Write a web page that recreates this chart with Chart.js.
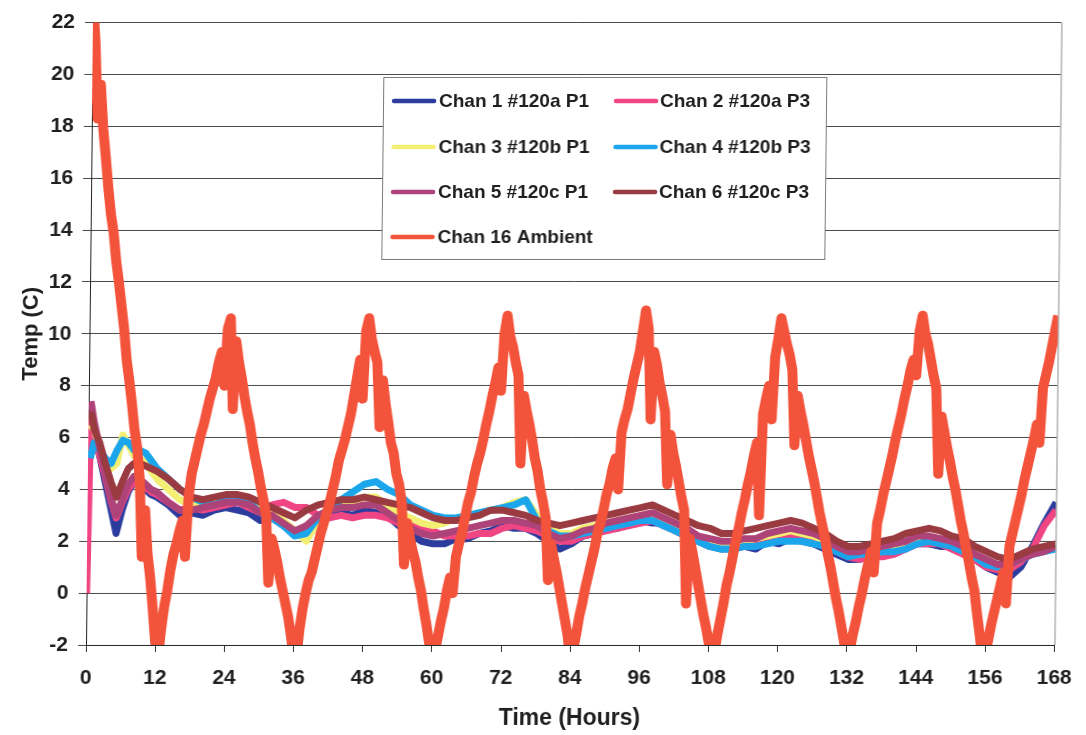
<!DOCTYPE html>
<html>
<head>
<meta charset="utf-8">
<title>Temperature log</title>
<script src="https://cdn.jsdelivr.net/npm/chart.js@4.4.0/dist/chart.umd.min.js"></script>
<style>
  html, body { margin: 0; padding: 0; background: #fff; }
  #wrap { width: 1086px; height: 735px; overflow: hidden; }
  /* the printed page sits slightly sheared */
  canvas { display: block; transform: skewX(-0.64deg); transform-origin: 0 645px; }
</style>
</head>
<body>
<div id="wrap"><canvas id="c" width="1086" height="735"></canvas></div>
<script>
// ---- tick labels ----
const xTickHours = [0, 12, 24, 36, 48, 60, 72, 84, 96, 108, 120, 132, 144, 156, 168];
const yTickTemps = [-2, 0, 2, 4, 6, 8, 10, 12, 14, 16, 18, 20, 22];

// ---- sample times (hours) for the six probe channels ----
const chanHours = [0, 0.4, 1, 2, 3, 4, 5, 6, 7, 8, 9, 10, 11, 12,
  14, 16, 18, 20, 22, 24, 26, 28, 30, 32, 34, 36, 38, 40, 42, 44, 46, 48, 50, 52, 54, 56, 58, 60,
  62, 64, 66, 68, 70, 72, 74, 76, 78, 80, 82, 84, 86, 88, 90, 92, 94, 96, 98, 100, 102, 104, 106, 108, 110,
  112, 114, 116, 118, 120, 122, 124, 126, 128, 130, 132, 134, 136, 138, 140, 142, 144, 146, 148, 150, 152, 154, 156, 158, 160, 162, 164, 166, 168];

// ---- probe temperatures (C) ----
const chan1 = [null, 7.0, 6.4, 5.3, 4.3, 3.3, 2.3, 3.2, 3.9, 4.3, 4.2, 4.0, 3.8, 3.7,
  3.4, 3.0, 3.1, 3.0, 3.2, 3.3, 3.2, 3.1, 2.8, 2.9, 2.6, 2.4, 2.5, 2.9, 3.0, 3.1, 3.0, 3.2, 3.1, 3.0, 2.6, 2.3, 2.0, 1.9,
  1.9, 2.1, 2.1, 2.3, 2.4, 2.6, 2.5, 2.5, 2.3, 2.0, 1.7, 1.9, 2.2, 2.3, 2.5, 2.5, 2.7, 2.8, 2.7, 2.7, 2.4, 2.2, 2.0, 1.8, 1.7,
  1.7, 1.8, 1.7, 2.0, 1.9, 2.1, 2.0, 1.9, 1.7, 1.5, 1.3, 1.3, 1.4, 1.5, 1.6, 1.8, 1.9, 1.9, 1.8, 1.8, 1.6, 1.3, 1.0, 0.8, 0.6, 1.0, 1.8, 2.7, 3.5];

const chan2 = [0, 6.8, 6.2, 5.3, 4.5, 3.6, 2.9, 3.5, 4.0, 4.3, 4.3, 4.1, 3.9, 3.8,
  3.5, 3.2, 3.3, 3.2, 3.3, 3.4, 3.5, 3.3, 3.1, 3.4, 3.5, 3.3, 3.3, 3.0, 2.9, 3.0, 2.9, 3.0, 3.0, 2.9, 2.7, 2.6, 2.5, 2.4,
  2.2, 2.2, 2.2, 2.3, 2.3, 2.5, 2.6, 2.5, 2.4, 2.2, 2.0, 2.0, 2.2, 2.3, 2.4, 2.5, 2.6, 2.7, 2.8, 2.6, 2.4, 2.2, 2.0, 1.9, 1.9,
  1.9, 1.9, 2.0, 2.1, 2.1, 2.2, 2.1, 2.0, 1.9, 1.6, 1.4, 1.3, 1.4, 1.4, 1.5, 1.7, 1.9, 1.9, 1.9, 1.7, 1.5, 1.3, 1.0, 0.9, 0.9, 1.2, 1.7, 2.6, 3.2];

const chan3 = [null, 6.5, 6.3, 5.6, 5.1, 4.8, 5.0, 6.1, 5.7, 5.3, 5.2, 5.0, 4.7, 4.4,
  4.0, 3.6, 3.4, 3.4, 3.5, 3.7, 3.8, 3.6, 3.3, 3.1, 2.8, 2.4, 2.0, 2.8, 3.2, 3.4, 3.5, 3.7, 3.7, 3.4, 3.1, 2.9, 2.7, 2.6,
  2.7, 2.9, 3.0, 3.1, 3.2, 3.3, 3.5, 3.6, 3.0, 2.5, 2.3, 2.3, 2.5, 2.6, 2.7, 2.8, 2.9, 3.0, 3.0, 2.8, 2.6, 2.4, 2.2, 2.0, 1.9,
  1.9, 2.0, 2.1, 2.2, 2.3, 2.4, 2.3, 2.2, 2.0, 1.7, 1.5, 1.5, 1.6, 1.7, 1.8, 1.9, 2.1, 2.1, 2.0, 1.9, 1.7, 1.4, 1.2, 1.1, 1.1, 1.3, 1.5, 1.6, 1.8];

const chan4 = [null, 5.2, 5.8, 5.5, 5.2, 5.0, 5.5, 5.9, 5.8, 5.5, 5.5, 5.4, 5.1, 4.8,
  4.4, 4.0, 3.7, 3.5, 3.4, 3.6, 3.7, 3.5, 3.1, 2.9, 2.6, 2.2, 2.3, 2.9, 3.3, 3.6, 3.9, 4.2, 4.3, 4.0, 3.8, 3.4, 3.2, 3.0,
  2.9, 2.9, 3.0, 3.1, 3.2, 3.3, 3.4, 3.6, 2.8, 2.4, 2.2, 2.2, 2.3, 2.4, 2.5, 2.6, 2.7, 2.8, 2.8, 2.6, 2.4, 2.2, 2.0, 1.8, 1.7,
  1.7, 1.8, 1.8, 1.9, 2.0, 2.0, 2.0, 1.9, 1.8, 1.6, 1.4, 1.5, 1.5, 1.6, 1.6, 1.7, 1.9, 2.0, 1.9, 1.8, 1.6, 1.4, 1.1, 1.0, 1.1, 1.3, 1.5, 1.6, 1.7];

const chan5 = [null, 7.4, 6.6, 5.6, 4.6, 3.7, 3.0, 3.6, 4.2, 4.5, 4.4, 4.2, 4.0, 3.9,
  3.5, 3.2, 3.2, 3.3, 3.4, 3.5, 3.5, 3.4, 3.1, 3.0, 2.7, 2.4, 2.6, 3.0, 3.2, 3.3, 3.3, 3.4, 3.4, 3.1, 2.8, 2.5, 2.3, 2.2,
  2.3, 2.4, 2.5, 2.6, 2.7, 2.8, 2.8, 2.7, 2.6, 2.3, 2.1, 2.2, 2.4, 2.5, 2.7, 2.8, 2.9, 3.0, 3.1, 2.9, 2.7, 2.5, 2.2, 2.1, 2.0,
  2.0, 2.1, 2.1, 2.3, 2.4, 2.5, 2.4, 2.3, 2.1, 1.8, 1.6, 1.6, 1.7, 1.8, 1.9, 2.0, 2.2, 2.2, 2.1, 2.0, 1.8, 1.5, 1.3, 1.1, 1.1, 1.3, 1.5, 1.6, 1.8];

const chan6 = [null, 7.0, 6.3, 5.8, 5.0, 4.3, 3.7, 4.3, 4.8, 5.0, 5.0, 4.9, 4.8, 4.7,
  4.4, 4.0, 3.7, 3.6, 3.7, 3.8, 3.8, 3.7, 3.5, 3.3, 3.1, 2.9, 3.2, 3.4, 3.5, 3.6, 3.6, 3.7, 3.6, 3.5, 3.4, 3.3, 3.1, 2.9,
  2.8, 2.8, 2.9, 3.0, 3.2, 3.2, 3.1, 3.0, 2.8, 2.7, 2.6, 2.7, 2.8, 2.9, 3.0, 3.1, 3.2, 3.3, 3.4, 3.2, 3.0, 2.8, 2.6, 2.5, 2.3,
  2.3, 2.4, 2.5, 2.6, 2.7, 2.8, 2.7, 2.5, 2.3, 2.0, 1.8, 1.8, 1.9, 2.0, 2.1, 2.3, 2.4, 2.5, 2.4, 2.2, 2.1, 1.8, 1.6, 1.4, 1.3, 1.5, 1.7, 1.8, 1.9];

// ---- ambient channel, one reading every half hour from 0 h ----
const ambientStepHours = 0.5;
const ambient = [
  22.8, 21.2, 18.3, 19.6, 17.9, 16.8, 15.6, 14.6, 13.9, 12.8, 12.0, 11.1,
  10.2, 9.0, 8.2, 7.3, 6.3, 5.6, 4.4, 1.4, 3.2, 1.5, 0.6, -0.6,
  -1.9, -2.5, -1.4, -0.5, 0.1, 0.9, 1.5, 1.9, 2.4, 2.8, 1.4, 3.7,
  4.6, 5.1, 5.6, 6.1, 6.5, 7.0, 7.5, 7.9, 8.3, 8.9, 9.3, 8.0,
  10.2, 10.6, 7.1, 9.7, 8.9, 8.3, 7.6, 7.0, 6.5, 5.8, 5.2, 4.7,
  4.1, 3.6, 3.0, 0.4, 2.1, 1.7, 1.2, 0.6, 0.1, -0.4, -0.9, -1.6,
  -2.4, -2.5, -1.4, -0.6, 0.0, 0.5, 0.8, 1.3, 1.8, 2.3, 2.7, 3.1,
  3.5, 4.0, 4.5, 5.1, 5.5, 5.9, 6.4, 6.9, 7.6, 8.3, 9.0, 7.5,
  10.1, 10.6, 9.8, 9.3, 8.9, 6.4, 8.2, 7.3, 6.6, 5.8, 5.4, 4.6,
  4.2, 3.5, 1.1, 2.7, 2.1, 1.6, 1.2, 0.6, 0.1, -0.6, -1.2, -1.9,
  -2.5, -2.3, -1.7, -1.1, -0.6, 0.1, 0.6, 0.0, 1.4, 1.9, 2.3, 2.9,
  3.5, 3.9, 4.5, 5.0, 5.4, 5.9, 6.5, 7.0, 7.6, 8.1, 8.7, 7.8,
  10.0, 10.7, 9.9, 9.5, 8.9, 8.4, 5.0, 7.6, 7.0, 6.5, 5.9, 5.2,
  4.7, 4.0, 3.5, 2.9, 0.5, 1.9, 1.3, 0.8, 0.2, -0.4, -1.0, -1.6,
  -2.5, -2.2, -1.6, -0.9, -0.4, 0.2, 0.7, 1.2, 1.7, 2.3, 2.7, 3.2,
  3.8, 4.2, 4.8, 5.2, 4.0, 6.2, 6.7, 7.1, 7.7, 8.3, 8.8, 9.3,
  10.1, 10.9, 10.2, 6.7, 9.3, 8.8, 8.1, 7.6, 7.0, 4.2, 6.1, 5.4,
  4.9, 4.3, 3.7, 3.2, -0.4, 2.1, 1.6, 1.0, 0.4, -0.2, -0.8, -1.3,
  -1.9, -2.5, -2.3, -1.6, -1.0, -0.4, 0.3, 0.8, 1.4, 2.0, 2.5, 3.1,
  3.6, 4.2, 4.7, 5.3, 5.8, 3.0, 6.9, 7.5, 8.0, 6.7, 9.1, 9.8,
  10.6, 10.1, 9.6, 9.2, 8.6, 5.7, 7.6, 7.0, 6.5, 5.9, 5.3, 4.8,
  4.3, 3.7, 3.1, 2.6, 2.1, 1.5, 1.0, 0.4, -0.2, -0.7, -1.3, -1.9,
  -2.5, -2.2, -1.6, -1.1, -0.5, 0.0, 0.6, 1.1, 1.6, 0.8, 2.7, 3.2,
  3.8, 4.3, 4.8, 5.3, 5.9, 6.4, 6.9, 7.5, 8.0, 8.6, 9.0, 8.4,
  10.1, 10.7, 10.0, 9.6, 9.0, 8.4, 7.9, 4.6, 6.8, 6.2, 5.6, 5.1,
  4.5, 4.0, 3.4, 2.8, 2.3, 1.7, 1.2, 0.6, 0.1, -0.8, -1.6, -2.5,
  -2.3, -1.8, -1.2, -0.7, -0.2, 0.3, 0.8, -0.4, 1.8, 2.3, 2.8, 3.3,
  3.8, 4.4, 4.9, 5.4, 5.9, 6.5, 5.8, 7.9, 8.4, 8.9, 9.5, 10.1,
  10.7
];

const seriesLabels = ['Chan 1 #120a P1', 'Chan 2 #120a P3', 'Chan 3 #120b P1', 'Chan 4 #120b P3',
                      'Chan 5 #120c P1', 'Chan 6 #120c P3', 'Chan 16 Ambient'];
const seriesColors = ['#2b3c9e', '#ef4583', '#f3ef72', '#1ba6ec', '#ad4379', '#9a3b42', '#f4533b'];
const probeValues = [chan1, chan2, chan3, chan4, chan5, chan6];

const FONT = '"Liberation Sans", Arial, Helvetica, sans-serif';
const INK = '#1e1e1e';

const datasets = probeValues.map((vals, k) => ({
  label: seriesLabels[k],
  data: chanHours.map((h, i) => ({ x: h, y: vals[i] })),
  borderColor: seriesColors[k],
  backgroundColor: seriesColors[k],
  borderWidth: 7,
  pointRadius: 0,
  tension: 0,
  borderJoinStyle: 'round',
  order: 6 - k
}));
datasets.push({
  label: seriesLabels[6],
  data: ambient.map((v, i) => ({ x: i * ambientStepHours, y: v })),
  borderColor: seriesColors[6],
  backgroundColor: seriesColors[6],
  borderWidth: 10,
  pointRadius: 0,
  tension: 0,
  borderJoinStyle: 'round',
  order: 0
});

// boxed two-column key inside the plot, plus the right-hand plot edge
const keyBox = {
  id: 'keyBox',
  afterDraw(chart) {
    const c = chart.ctx;
    const area = chart.chartArea;
    c.save();
    c.strokeStyle = '#8c8c8c';
    c.lineWidth = 1;
    c.beginPath();
    c.moveTo(area.right + 0.5, area.top);
    c.lineTo(area.right + 0.5, area.bottom);
    c.stroke();

    const box = { x: 377, y: 77, w: 443, h: 182 };
    c.fillStyle = '#ffffff';
    c.fillRect(box.x, box.y, box.w, box.h);
    c.strokeStyle = '#7a7a7a';
    c.strokeRect(box.x + 0.5, box.y + 0.5, box.w, box.h);

    const cols = [{ line: 388, text: 433 }, { line: 610, text: 654 }];
    const rows = [101, 147, 192, 237];
    c.font = 'bold 19px ' + FONT;
    c.textBaseline = 'middle';
    c.textAlign = 'left';
    chart.data.datasets.forEach((ds, i) => {
      const col = cols[i % 2];
      const y = rows[Math.floor(i / 2)];
      c.strokeStyle = ds.borderColor;
      c.lineWidth = 4.5;
      c.lineCap = 'round';
      c.beginPath();
      c.moveTo(col.line, y);
      c.lineTo(col.line + 40, y);
      c.stroke();
      c.fillStyle = INK;
      c.fillText(ds.label, col.text, y + 1);
    });
    c.restore();
  }
};

const tickFont = { family: FONT, weight: 'bold', size: 21 };

new Chart(document.getElementById('c'), {
  type: 'line',
  data: { datasets },
  plugins: [keyBox],
  options: {
    responsive: false,
    animation: false,
    devicePixelRatio: 1,
    layout: { padding: { top: 19, right: 24, bottom: 0, left: 0 } },
    plugins: { legend: { display: false }, tooltip: { enabled: false } },
    scales: {
      x: {
        type: 'linear',
        min: 0,
        max: 168,
        afterBuildTicks: s => { s.ticks = xTickHours.map(v => ({ value: v })); },
        afterFit: s => { s.height = 90; },
        ticks: { font: tickFont, color: INK, padding: 14, maxRotation: 0, autoSkip: false },
        grid: { drawOnChartArea: false, drawTicks: true, tickLength: 7, color: '#333' },
        border: { color: '#222', width: 1 },
        title: { display: true, text: 'Time (Hours)', font: { family: FONT, weight: 'bold', size: 23 }, color: INK, padding: { top: 0, bottom: 3 } }
      },
      y: {
        type: 'linear',
        min: -2,
        max: 22,
        afterBuildTicks: s => { s.ticks = yTickTemps.map(v => ({ value: v })); },
        afterFit: s => { s.width = 86; },
        ticks: { font: tickFont, color: INK, padding: 10 },
        grid: { color: '#4a4a4a', lineWidth: 1, tickLength: 8 },
        border: { color: '#222', width: 1 },
        title: { display: true, text: 'Temp (C)', font: { family: FONT, weight: 'bold', size: 22 }, color: INK, padding: { top: 15, bottom: 0 } }
      }
    }
  }
});
</script>
</body>
</html>
